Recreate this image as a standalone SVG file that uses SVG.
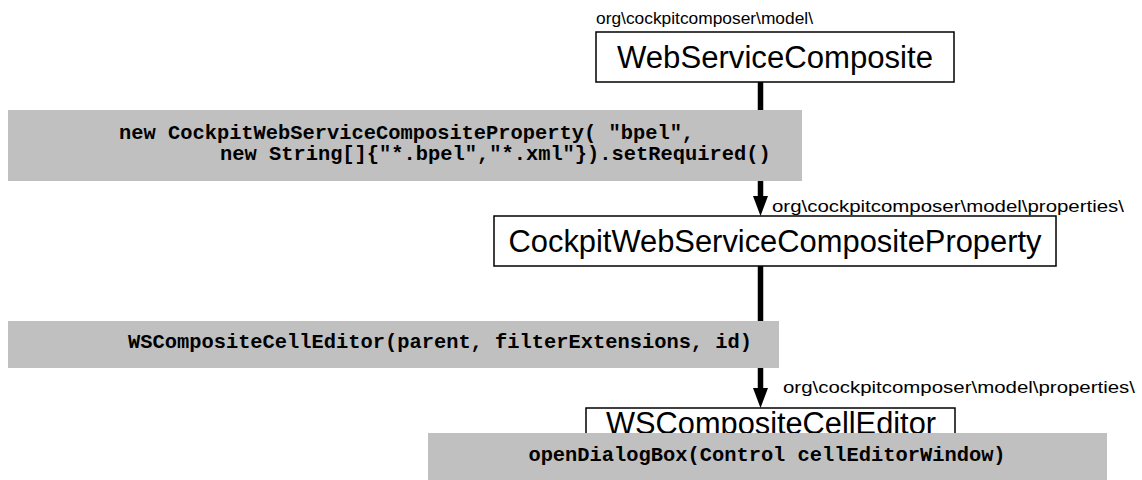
<svg xmlns="http://www.w3.org/2000/svg" width="1142" height="480" viewBox="0 0 1142 480">
  <defs>
    <style>
      .box { fill: #ffffff; stroke: #000000; stroke-width: 1.5; }
      .code { fill: #c0c0c0; stroke: none; }
      .title { font-family: "Liberation Sans", Arial, sans-serif; font-size: 31px; fill: #000; }
      .pkg { font-family: "Liberation Sans", Arial, sans-serif; font-size: 17px; fill: #000; }
      .mono { font-family: "Liberation Mono", "Courier New", monospace; font-size: 20.4px; font-weight: bold; fill: #000; white-space: pre; }
      .link { stroke: #000; stroke-width: 5.5; fill: none; }
      .head { fill: #000; stroke: none; }
    </style>
  </defs>

  <!-- connectors -->
  <g id="connectors">
    <line class="link" x1="760.5" y1="82" x2="760.5" y2="198"/>
    <path class="head" d="M753,196 L768,196 L760.5,216 Z"/>
    <line class="link" x1="760.5" y1="266" x2="760.5" y2="390"/>
    <path class="head" d="M753,388 L768,388 L760.5,408 Z"/>
  </g>

  <!-- WebServiceComposite -->
  <g id="web-service-composite">
    <text class="pkg" x="596" y="24" textLength="217" lengthAdjust="spacingAndGlyphs">org\cockpitcomposer\model\</text>
    <rect class="box" x="596" y="32" width="358" height="50"/>
    <text class="title" x="775" y="68" text-anchor="middle" textLength="316" lengthAdjust="spacingAndGlyphs">WebServiceComposite</text>
  </g>

  <!-- constructor call -->
  <g id="property-call">
    <rect class="code" x="8" y="110" width="794" height="71"/>
    <text class="mono" x="119" y="139">new CockpitWebServiceCompositeProperty( "bpel",</text>
    <text class="mono" x="220" y="160">new String[]{"*.bpel","*.xml"}).setRequired()</text>
  </g>

  <!-- CockpitWebServiceCompositeProperty -->
  <g id="composite-property">
    <text class="pkg" x="772" y="212" textLength="352" lengthAdjust="spacingAndGlyphs">org\cockpitcomposer\model\properties\</text>
    <rect class="box" x="494" y="216" width="562" height="50"/>
    <text class="title" x="775" y="252" text-anchor="middle" textLength="533" lengthAdjust="spacingAndGlyphs">CockpitWebServiceCompositeProperty</text>
  </g>

  <!-- editor constructor call -->
  <g id="editor-call">
    <rect class="code" x="8" y="321" width="771" height="47"/>
    <text class="mono" x="128" y="348">WSCompositeCellEditor(parent, filterExtensions, id)</text>
  </g>

  <!-- WSCompositeCellEditor -->
  <g id="cell-editor">
    <text class="pkg" x="783" y="393" textLength="352" lengthAdjust="spacingAndGlyphs">org\cockpitcomposer\model\properties\</text>
    <rect class="box" x="586" y="408" width="369" height="60"/>
    <text class="title" x="771" y="434" text-anchor="middle" textLength="330" lengthAdjust="spacingAndGlyphs">WSCompositeCellEditor</text>
  </g>

  <!-- dialog call -->
  <g id="dialog-call">
    <rect class="code" x="428" y="433" width="679" height="47"/>
    <text class="mono" x="767" y="461" text-anchor="middle">openDialogBox(Control cellEditorWindow)</text>
  </g>
</svg>
